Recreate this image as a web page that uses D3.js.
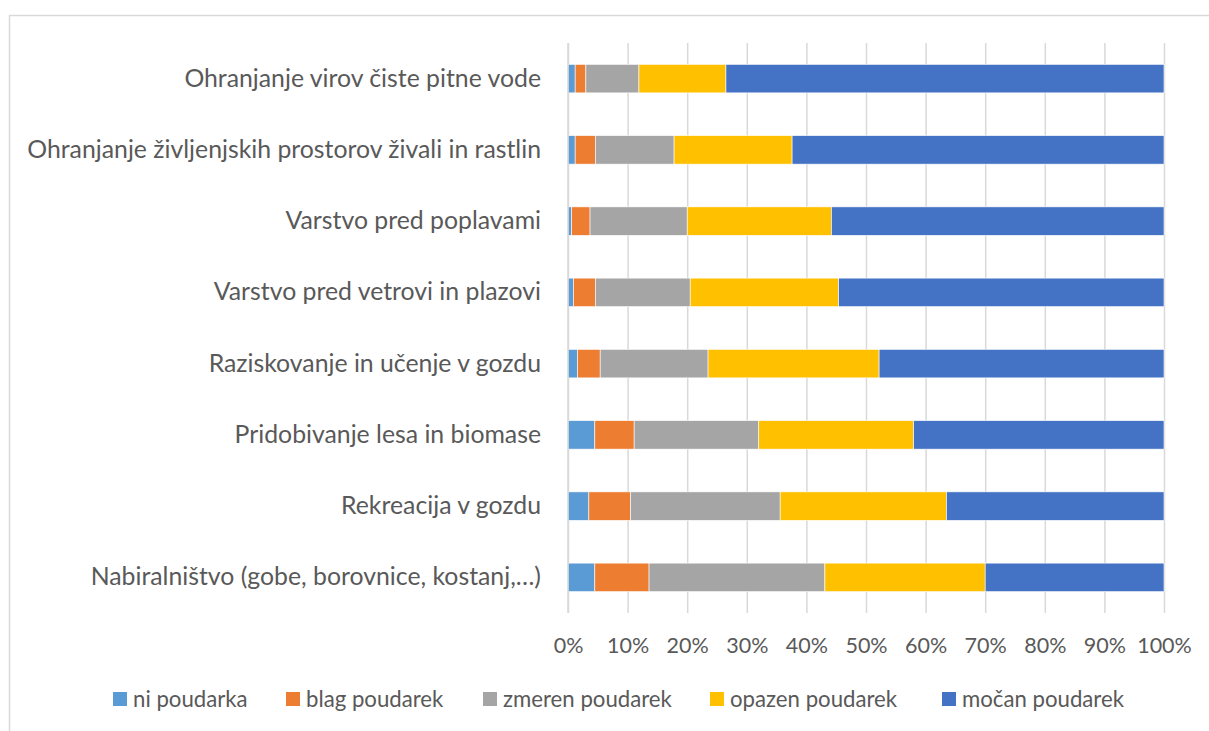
<!DOCTYPE html>
<html>
<head>
<meta charset="utf-8">
<script src="https://cdn.jsdelivr.net/npm/d3@7"></script>
<style>
  html, body { margin: 0; padding: 0; background: #fff; }
  svg { display: block; }
  text { font-family: Lato, "Open Sans", sans-serif; fill: #595959; }
</style>
</head>
<body>
<svg id="chart" width="1209" height="731"></svg>
<script>
// ---- data (top-to-bottom order) ----
const categories = [
  "Ohranjanje virov čiste pitne vode",
  "Ohranjanje življenjskih prostorov živali in rastlin",
  "Varstvo pred poplavami",
  "Varstvo pred vetrovi in plazovi",
  "Raziskovanje in učenje v gozdu",
  "Pridobivanje lesa in biomase",
  "Rekreacija v gozdu",
  "Nabiralništvo (gobe, borovnice, kostanj,…)"
];
const seriesNames = ["ni poudarka", "blag poudarek", "zmeren poudarek", "opazen poudarek", "močan poudarek"];
const niPoudarka      = [1.2, 1.2, 0.6, 0.9, 1.6, 4.5, 3.5, 4.5];
const blagPoudarek    = [1.8, 3.4, 3.1, 3.7, 3.8, 6.6, 7.0, 9.1];
const zmerenPoudarek  = [8.9, 13.2, 16.3, 15.9, 18.1, 20.9, 25.1, 29.5];
const opazenPoudarek  = [14.6, 19.8, 24.2, 24.9, 28.7, 26.0, 27.9, 26.9];
const mocanPoudarek   = [73.5, 62.4, 55.8, 54.6, 47.8, 42.0, 36.5, 30.0];
const tickValues = [0, 0.1, 0.2, 0.3, 0.4, 0.5, 0.6, 0.7, 0.8, 0.9, 1.0];
const colors = ["#5B9BD5", "#ED7D31", "#A5A5A5", "#FFC000", "#4472C4"];

const seriesValues = [niPoudarka, blagPoudarek, zmerenPoudarek, opazenPoudarek, mocanPoudarek];
const rows = categories.map((c, i) => {
  const o = { cat: c };
  const total = seriesValues.reduce((s, arr) => s + arr[i], 0);
  seriesNames.forEach((n, k) => { o[n] = seriesValues[k][i] / total; });
  return o;
});

const svg = d3.select("#chart");
const plot = { left: 568, right: 1164, top: 43, bottom: 613 };

// chart frame
svg.append("rect")
  .attr("x", 9.5).attr("y", 15.5)
  .attr("width", 1300).attr("height", 1000)
  .attr("fill", "none").attr("stroke", "#D9D9D9").attr("stroke-width", 1.5);

const x = d3.scaleLinear().domain([0, 1]).range([plot.left, plot.right]);
const y = d3.scaleBand().domain(categories).range([plot.top, plot.bottom])
  .paddingInner(0.6).paddingOuter(0.3);

// gridlines + tick labels via axis
const xAxis = d3.axisBottom(x).tickValues(tickValues)
  .tickFormat(d3.format(".0%"))
  .tickSize(-(plot.bottom - plot.top)).tickPadding(25);
const gx = svg.append("g").attr("transform", `translate(0,${plot.bottom})`).call(xAxis);
gx.select(".domain").remove();
gx.selectAll(".tick line").attr("stroke", "#D9D9D9").attr("stroke-width", 1.5);
gx.selectAll(".tick text").attr("font-size", 21.5).attr("fill", "#595959")
  .style("font-family", "Lato, 'Open Sans', sans-serif");

// bars
const stack = d3.stack().keys(seriesNames);
const stacked = stack(rows);
svg.append("g").selectAll("g").data(stacked).join("g")
  .attr("fill", (d, i) => colors[i])
  .selectAll("rect").data(d => d).join("rect")
  .attr("x", d => x(d[0]))
  .attr("width", d => x(d[1]) - x(d[0]))
  .attr("y", d => y(d.data.cat))
  .attr("height", y.bandwidth())
  .attr("stroke", "#ffffff").attr("stroke-width", 0.6);

// category labels
const yAxis = d3.axisLeft(y).tickSize(0).tickPadding(27);
const gy = svg.append("g").attr("transform", `translate(${plot.left},0)`).call(yAxis);
gy.select(".domain").remove();
gy.selectAll(".tick text").attr("font-size", 24.8).attr("fill", "#595959")
  .style("font-family", "Lato, 'Open Sans', sans-serif");

// vertical axis line at 0%
svg.append("line")
  .attr("x1", x(0)).attr("x2", x(0)).attr("y1", plot.top).attr("y2", plot.bottom)
  .attr("stroke", "#D9D9D9").attr("stroke-width", 1.5);

// legend
const legendX = [113, 286, 483, 710, 942];
const legendY = 699;
const lg = svg.append("g").selectAll("g").data(seriesNames).join("g")
  .attr("transform", (d, i) => `translate(${legendX[i]},${legendY})`);
lg.append("rect").attr("x", 0).attr("y", -7).attr("width", 14).attr("height", 14)
  .attr("fill", (d, i) => colors[i]);
lg.append("text").attr("x", 20).attr("y", 0).attr("dy", "0.35em")
  .attr("font-size", 22.2).text(d => d);
</script>
</body>
</html>
